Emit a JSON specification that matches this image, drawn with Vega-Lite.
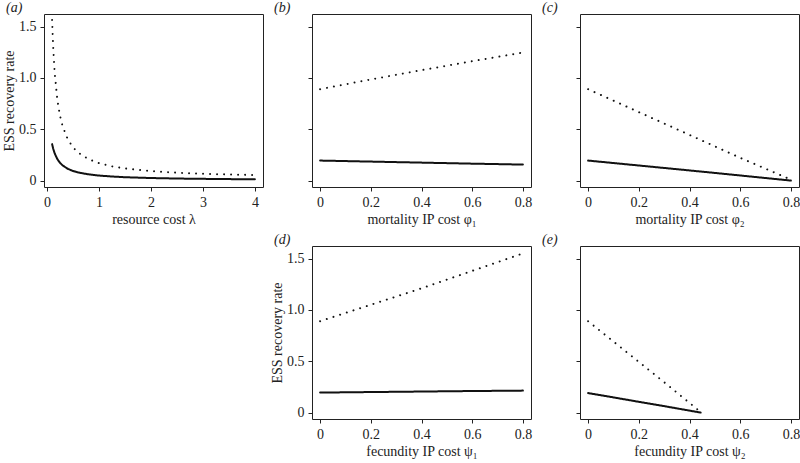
{
  "$schema": "https://vega.github.io/schema/vega-lite/v6.json",
  "padding": {"left": 2, "top": 0, "right": 0, "bottom": 0},
  "background": "white",
  "datasets": {
    "a": [
      {"x": 0.1, "y": 0.355, "s": "ESS"}, {"x": 0.12, "y": 0.312, "s": "ESS"}, {"x": 0.15, "y": 0.264, "s": "ESS"},
      {"x": 0.2, "y": 0.21, "s": "ESS"}, {"x": 0.25, "y": 0.174, "s": "ESS"}, {"x": 0.3, "y": 0.149, "s": "ESS"},
      {"x": 0.4, "y": 0.115, "s": "ESS"}, {"x": 0.5, "y": 0.094, "s": "ESS"}, {"x": 0.6, "y": 0.079, "s": "ESS"},
      {"x": 0.8, "y": 0.061, "s": "ESS"}, {"x": 1.0, "y": 0.049, "s": "ESS"}, {"x": 1.25, "y": 0.04, "s": "ESS"},
      {"x": 1.5, "y": 0.033, "s": "ESS"}, {"x": 2.0, "y": 0.025, "s": "ESS"}, {"x": 2.5, "y": 0.02, "s": "ESS"},
      {"x": 3.0, "y": 0.017, "s": "ESS"}, {"x": 3.5, "y": 0.0144, "s": "ESS"}, {"x": 4.0, "y": 0.0127, "s": "ESS"},
      {"x": 0.1, "y": 1.565, "s": "dot"}, {"x": 0.12, "y": 1.307, "s": "dot"}, {"x": 0.15, "y": 1.048, "s": "dot"},
      {"x": 0.2, "y": 0.79, "s": "dot"}, {"x": 0.25, "y": 0.635, "s": "dot"}, {"x": 0.3, "y": 0.532, "s": "dot"},
      {"x": 0.4, "y": 0.403, "s": "dot"}, {"x": 0.5, "y": 0.325, "s": "dot"}, {"x": 0.6, "y": 0.273, "s": "dot"},
      {"x": 0.8, "y": 0.209, "s": "dot"}, {"x": 1.0, "y": 0.17, "s": "dot"}, {"x": 1.25, "y": 0.139, "s": "dot"},
      {"x": 1.5, "y": 0.118, "s": "dot"}, {"x": 2.0, "y": 0.0925, "s": "dot"}, {"x": 2.5, "y": 0.077, "s": "dot"},
      {"x": 3.0, "y": 0.0667, "s": "dot"}, {"x": 3.5, "y": 0.0593, "s": "dot"}, {"x": 4.0, "y": 0.0538, "s": "dot"}
    ],
    "b": [
      {"x": 0, "y": 0.195, "s": "ESS"}, {"x": 0.2, "y": 0.185, "s": "ESS"}, {"x": 0.4, "y": 0.175, "s": "ESS"},
      {"x": 0.6, "y": 0.165, "s": "ESS"}, {"x": 0.8, "y": 0.156, "s": "ESS"},
      {"x": 0, "y": 0.89, "s": "dot"}, {"x": 0.2, "y": 0.985, "s": "dot"}, {"x": 0.4, "y": 1.075, "s": "dot"},
      {"x": 0.6, "y": 1.163, "s": "dot"}, {"x": 0.8, "y": 1.247, "s": "dot"}
    ],
    "c": [
      {"x": 0, "y": 0.195, "s": "ESS"}, {"x": 0.2, "y": 0.147, "s": "ESS"}, {"x": 0.4, "y": 0.099, "s": "ESS"},
      {"x": 0.6, "y": 0.05, "s": "ESS"}, {"x": 0.8, "y": 0.0, "s": "ESS"},
      {"x": 0, "y": 0.89, "s": "dot"}, {"x": 0.2, "y": 0.667, "s": "dot"}, {"x": 0.4, "y": 0.445, "s": "dot"},
      {"x": 0.6, "y": 0.222, "s": "dot"}, {"x": 0.79, "y": 0.02, "s": "dot"}
    ],
    "d": [
      {"x": 0, "y": 0.195, "s": "ESS"}, {"x": 0.2, "y": 0.2, "s": "ESS"}, {"x": 0.4, "y": 0.205, "s": "ESS"},
      {"x": 0.6, "y": 0.21, "s": "ESS"}, {"x": 0.8, "y": 0.214, "s": "ESS"},
      {"x": 0, "y": 0.89, "s": "dot"}, {"x": 0.2, "y": 1.05, "s": "dot"}, {"x": 0.4, "y": 1.21, "s": "dot"},
      {"x": 0.6, "y": 1.38, "s": "dot"}, {"x": 0.8, "y": 1.55, "s": "dot"}
    ],
    "e": [
      {"x": 0, "y": 0.19, "s": "ESS"}, {"x": 0.1, "y": 0.148, "s": "ESS"}, {"x": 0.2, "y": 0.105, "s": "ESS"},
      {"x": 0.3, "y": 0.063, "s": "ESS"}, {"x": 0.444, "y": 0.0, "s": "ESS"},
      {"x": 0, "y": 0.89, "s": "dot"}, {"x": 0.1, "y": 0.692, "s": "dot"}, {"x": 0.2, "y": 0.494, "s": "dot"},
      {"x": 0.3, "y": 0.296, "s": "dot"}, {"x": 0.434, "y": 0.026, "s": "dot"}
    ]
  },
  "columns": 3,
  "bounds": "flush",
  "spacing": {"column": 49, "row": 59},
  "concat": [
    {
      "title": "(a)",
      "data": {"name": "a"},
      "width": 219, "height": 173,
      "mark": {"type": "line", "strokeWidth": 2, "strokeCap": "round", "color": "#111"},
      "encoding": {
        "x": {"field": "x", "type": "quantitative", "scale": {"domain": [-0.056, 4.156], "nice": false, "zero": false},
              "axis": {"values": [0, 1, 2, 3, 4], "title": "resource cost λ"}},
        "y": {"field": "y", "type": "quantitative", "scale": {"domain": [-0.0624, 1.6224], "nice": false, "zero": false},
              "axis": {"values": [0, 0.5, 1, 1.5], "title": "ESS recovery rate", "labelExpr": "datum.value == 0 ? '0' : format(datum.value, '.1f')"}},
        "strokeDash": {"field": "s", "type": "nominal", "legend": null, "scale": {"domain": ["ESS", "dot"], "range": [[1, 0], [0.01, 7]]}}
      }
    },
    {
      "title": "(b)",
      "data": {"name": "b"},
      "width": 219, "height": 173,
      "mark": {"type": "line", "strokeWidth": 2, "strokeCap": "round", "color": "#111"},
      "encoding": {
        "x": {"field": "x", "type": "quantitative", "scale": {"domain": [-0.032, 0.832], "nice": false, "zero": false},
              "axis": {"values": [0, 0.2, 0.4, 0.6, 0.8], "format": ".1~f", "title": "mortality IP cost φ₁"}},
        "y": {"field": "y", "type": "quantitative", "scale": {"domain": [-0.0624, 1.6224], "nice": false, "zero": false},
              "axis": {"values": [0, 0.5, 1, 1.5], "title": null, "labels": false}},
        "strokeDash": {"field": "s", "type": "nominal", "legend": null, "scale": {"domain": ["ESS", "dot"], "range": [[1, 0], [0.01, 7]]}}
      }
    },
    {
      "title": "(c)",
      "data": {"name": "c"},
      "width": 219, "height": 173,
      "mark": {"type": "line", "strokeWidth": 2, "strokeCap": "round", "color": "#111"},
      "encoding": {
        "x": {"field": "x", "type": "quantitative", "scale": {"domain": [-0.032, 0.832], "nice": false, "zero": false},
              "axis": {"values": [0, 0.2, 0.4, 0.6, 0.8], "format": ".1~f", "title": "mortality IP cost φ₂"}},
        "y": {"field": "y", "type": "quantitative", "scale": {"domain": [-0.0624, 1.6224], "nice": false, "zero": false},
              "axis": {"values": [0, 0.5, 1, 1.5], "title": null, "labels": false}},
        "strokeDash": {"field": "s", "type": "nominal", "legend": null, "scale": {"domain": ["ESS", "dot"], "range": [[1, 0], [0.01, 7]]}}
      }
    },
    {
      "data": {"values": []},
      "width": 219, "height": 173,
      "view": {"stroke": null},
      "mark": {"type": "point", "opacity": 0},
      "encoding": {}
    },
    {
      "title": "(d)",
      "data": {"name": "d"},
      "width": 219, "height": 173,
      "mark": {"type": "line", "strokeWidth": 2, "strokeCap": "round", "color": "#111"},
      "encoding": {
        "x": {"field": "x", "type": "quantitative", "scale": {"domain": [-0.032, 0.832], "nice": false, "zero": false},
              "axis": {"values": [0, 0.2, 0.4, 0.6, 0.8], "format": ".1~f", "title": "fecundity IP cost ψ₁"}},
        "y": {"field": "y", "type": "quantitative", "scale": {"domain": [-0.0624, 1.6224], "nice": false, "zero": false},
              "axis": {"values": [0, 0.5, 1, 1.5], "title": "ESS recovery rate", "labelExpr": "datum.value == 0 ? '0' : format(datum.value, '.1f')"}},
        "strokeDash": {"field": "s", "type": "nominal", "legend": null, "scale": {"domain": ["ESS", "dot"], "range": [[1, 0], [0.01, 7]]}}
      }
    },
    {
      "title": "(e)",
      "data": {"name": "e"},
      "width": 219, "height": 173,
      "mark": {"type": "line", "strokeWidth": 2, "strokeCap": "round", "color": "#111"},
      "encoding": {
        "x": {"field": "x", "type": "quantitative", "scale": {"domain": [-0.032, 0.832], "nice": false, "zero": false},
              "axis": {"values": [0, 0.2, 0.4, 0.6, 0.8], "format": ".1~f", "title": "fecundity IP cost ψ₂"}},
        "y": {"field": "y", "type": "quantitative", "scale": {"domain": [-0.0624, 1.6224], "nice": false, "zero": false},
              "axis": {"values": [0, 0.5, 1, 1.5], "title": null, "labels": false}},
        "strokeDash": {"field": "s", "type": "nominal", "legend": null, "scale": {"domain": ["ESS", "dot"], "range": [[1, 0], [0.01, 7]]}}
      }
    }
  ],
  "config": {
    "font": "Liberation Serif",
    "view": {"stroke": "#222", "strokeWidth": 1},
    "axis": {
      "grid": false, "domain": false, "ticks": true, "tickColor": "#222", "tickSize": 4,
      "labelFont": "Liberation Serif", "labelFontSize": 14, "labelColor": "#222", "labelPadding": 4,
      "titleFont": "Liberation Serif", "titleFontSize": 14, "titleFontWeight": "normal", "titleColor": "#222"
    },
    "axisX": {"titlePadding": 3},
    "axisY": {"titlePadding": 2, "labelAngle": 0},
    "title": {"font": "Liberation Serif", "fontSize": 14, "fontStyle": "italic", "fontWeight": "normal", "color": "#222",
              "anchor": "start", "frame": "group", "dx": -38, "baseline": "bottom", "offset": -1}
  }
}
